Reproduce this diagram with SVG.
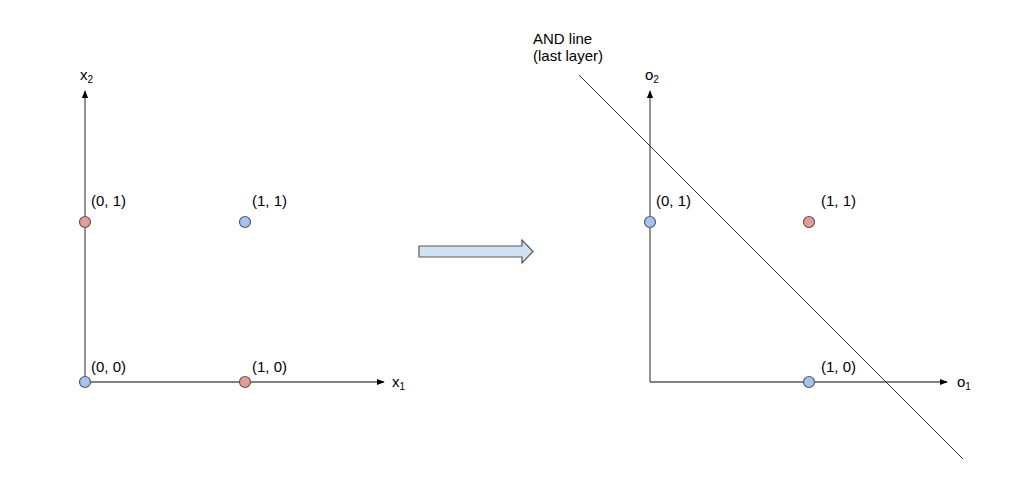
<svg xmlns="http://www.w3.org/2000/svg" width="1024" height="482" viewBox="0 0 1024 482">
<style>
.ax{stroke:#595959;stroke-width:1.3;fill:none}
.pt{stroke:#595959;stroke-width:1.2}
.red{fill:#e69a9a}
.blue{fill:#a4c2f4}
text{font-family:"Liberation Sans",Arial,sans-serif;font-size:15px;fill:#000}
.sub{font-size:10px}
</style>
<defs>
<marker id="ah" viewBox="0 0 10 10" refX="9" refY="5" markerWidth="8" markerHeight="8" markerUnits="userSpaceOnUse" orient="auto">
<path d="M0,1 L10,5 L0,9 Z" fill="#000"/>
</marker>
</defs>
<rect width="1024" height="482" fill="#fff"/>
<g id="connectors">
<line class="ax" x1="85" y1="382" x2="85" y2="91" marker-end="url(#ah)"/>
<line class="ax" x1="85" y1="382" x2="384" y2="382" marker-end="url(#ah)"/>
<line class="ax" x1="650" y1="382" x2="650" y2="91" marker-end="url(#ah)"/>
<line class="ax" x1="650" y1="382" x2="947" y2="382" marker-end="url(#ah)"/>
<line x1="579" y1="75" x2="963" y2="459" stroke="#333" stroke-width="1"/>
</g>
<g id="axis-labels">
<text x="80" y="80">x<tspan class="sub" dy="3">2</tspan></text>
<text x="392" y="387">x<tspan class="sub" dy="3">1</tspan></text>
<text x="645" y="80">o<tspan class="sub" dy="3">2</tspan></text>
<text x="957" y="387">o<tspan class="sub" dy="3">1</tspan></text>
</g>
<g id="arrow-block">
<path d="M419,246 L522,246 L522,240 L533,251.5 L522,263 L522,257 L419,257 Z" fill="#cfe2f3" stroke="#595959" stroke-width="1.2"/>
</g>
<g id="and-label">
<text x="533" y="44">AND line</text>
<text x="533" y="61">(last layer)</text>
</g>
<g id="left-00"><circle class="pt blue" cx="85" cy="382" r="5.5"/><text x="91" y="372">(0, 0)</text></g>
<g id="left-10"><circle class="pt red" cx="245" cy="382" r="5.5"/><text x="252" y="372">(1, 0)</text></g>
<g id="left-01"><circle class="pt red" cx="85" cy="222" r="5.5"/><text x="91" y="206">(0, 1)</text></g>
<g id="left-11"><circle class="pt blue" cx="245" cy="222" r="5.5"/><text x="252" y="206">(1, 1)</text></g>
<g id="right-01"><circle class="pt blue" cx="650" cy="222" r="5.5"/><text x="656" y="206">(0, 1)</text></g>
<g id="right-11"><circle class="pt red" cx="809" cy="222" r="5.5"/><text x="821" y="206">(1, 1)</text></g>
<g id="right-10"><circle class="pt blue" cx="809" cy="382" r="5.5"/><text x="821" y="372">(1, 0)</text></g>
</svg>
